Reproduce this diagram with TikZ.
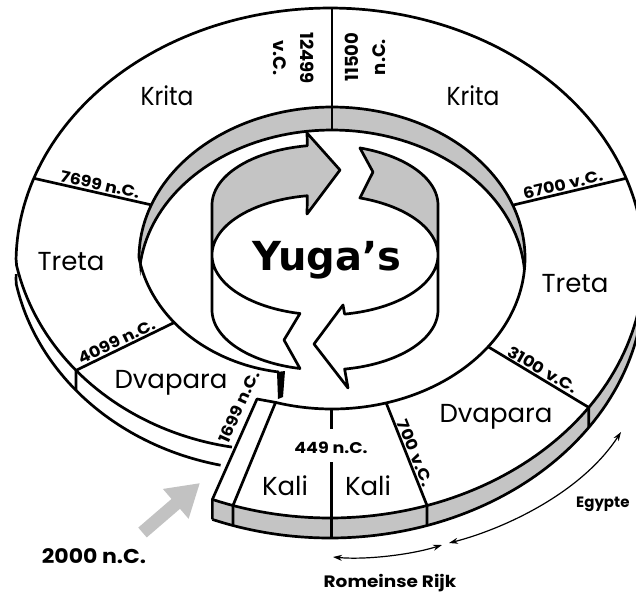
\documentclass[tikz,border=0pt]{standalone}
\usepackage{fontspec}
\usepackage{graphicx}
\setmainfont{Poppins}
\newfontfamily\heavyfont{DejaVu Sans}
\usetikzlibrary{arrows.meta,calc}
\definecolor{bandgrey}{RGB}{196,196,196}
\definecolor{ptrgrey}{RGB}{194,194,194}
\newcommand\datetext[1]{\scalebox{1.13}[1]{#1}}
\begin{document}
\begin{tikzpicture}[x=1pt,y=-1pt,
  declare function={
    ko(\t)=1-0.0032*max(0,-180-\t);
    ox(\t)=330+314*ko(\t)*cos(\t);
    oy(\t)=263+255*ko(\t)*sin(\t);
    ki(\t)=1-0.0028*max(0,-180-\t);
    ix(\t)=332+193*ki(\t)*cos(\t);
    iy(\t)=258+151*ki(\t)*sin(\t);
  },
  edge/.style={line width=2.7pt,line join=round},
  yugalabel/.style={font=\fontsize{26}{28}\selectfont,inner sep=0pt,anchor=base},
  datelabel/.style={font=\bfseries\fontsize{15.5}{17}\selectfont,inner sep=2.5pt},
  toplabel/.style={font=\bfseries\fontsize{18}{27}\selectfont,inner sep=0pt,align=center},
  notelabel/.style={font=\bfseries\fontsize{16.5}{18}\selectfont,inner sep=0pt,anchor=base},
  thinarrow/.style={line width=1.2pt,{Stealth[length=9pt,width=6pt]}-{Stealth[length=9pt,width=6pt]}}
]
\useasboundingbox (0,0) rectangle (636,592);
\clip (0,0) rectangle (636,592);

% ---------- named points ----------
\coordinate (S1) at ({ox(112)},{oy(112)});
\coordinate (S1b) at ({ox(112)},{oy(112)+20});
\coordinate (S2) at (257,399);
\coordinate (S3) at ({ix(107)},{iy(107)});
\coordinate (S4) at ({ox(108)},{oy(108)});
\coordinate (S4b) at ({ox(108)},{oy(108)+20});

\coordinate (otop) at (332,{oy(-90)});
\coordinate (wtop) at (332,130);
\coordinate (o7699) at ({ox(-160.6)},{oy(-160.6)});
\coordinate (i7699) at ({ix(-159.4)},{iy(-159.4)});
\coordinate (o6700) at ({ox(-19.4)},{oy(-19.4)});
\coordinate (i6700) at ({ix(-20.5)},{iy(-20.5)});
\coordinate (o3100) at ({ox(34.5)},{oy(34.5)});
\coordinate (o3100b) at ({ox(34.5)},{oy(34.5)+20});
\coordinate (i3100) at ({ix(36)},{iy(36)});
\coordinate (o700) at ({ox(72)},{oy(72)});
\coordinate (o700b) at ({ox(72)},{oy(72)+20});
\coordinate (i700) at ({ix(73.7)},{iy(73.7)});
\coordinate (i449) at (331.5,{iy(90)});
\coordinate (m449a) at (331.5,429);
\coordinate (m449b) at (331.5,462);
\coordinate (o449b) at (331.5,{oy(90)+20});
\coordinate (o4099) at ({ox(-207.5)},{oy(-207.5)});
\coordinate (o4099b) at ({ox(-207.5)},{oy(-207.5)+20});
\coordinate (i4099) at ({ix(-207.6)},{iy(-207.6)});

\coordinate (W1) at (277,372);
\coordinate (W2) at (285,371);
\coordinate (W3) at (283,397);
\coordinate (W4) at (278,399);

% central ribbon arrows
\coordinate (A1ub) at (307,133);
\coordinate (A1tip) at (340,170);
\coordinate (A1lb) at (307,214);
\coordinate (A1notch) at (284,340);
\coordinate (A2notch) at (373,172);
\coordinate (A2ub) at (343,305);
\coordinate (A2tip) at (314,344);
\coordinate (A2lb) at (348,388);

% ---------- grey fills ----------
\fill[bandgrey] plot[domain=112:0,samples=90] ({ox(\x)},{oy(\x)})
  -- plot[domain=0:112,samples=90] ({ox(\x)},{oy(\x)+20}) -- cycle;

\begin{scope}
  \clip plot[domain=0:360,samples=120] ({332+193*cos(\x)},{258+151*sin(\x)}) -- cycle;
  \fill[bandgrey] (100,285) -- plot[domain=180:360,samples=90] ({332+193*cos(\x)},{281+151*sin(\x)})
    -- (560,285) -- (560,90) -- (100,90) -- cycle;
  \draw[edge] plot[domain=180:360,samples=90] ({332+193*cos(\x)},{281+151*sin(\x)});
\end{scope}

\fill[bandgrey] plot[domain=180:261,samples=40] ({325+113*cos(\x)},{205+60*sin(\x)})
  -- (A1ub) -- (A1tip) -- (A1lb)
  -- plot[domain=261:180,samples=40] ({325+113*cos(\x)},{255+60*sin(\x)}) -- cycle;
\fill[bandgrey] plot[domain=288:360,samples=40] ({325+113*cos(\x)},{205+60*sin(\x)})
  -- plot[domain=360:288,samples=40] ({325+113*cos(\x)},{255+60*sin(\x)})
  -- (A2notch) -- cycle;

% ---------- ring outlines ----------
\draw[edge] plot[domain=112:-246.6,samples=240] ({ox(\x)},{oy(\x)});
\draw[edge] plot[domain=112:0,samples=90] ({ox(\x)},{oy(\x)+20});
\draw[edge] plot[domain=-178:-244,samples=60] ({ox(\x)},{oy(\x)+20});
\draw[edge] plot[domain=107:-250,samples=240] ({ix(\x)},{iy(\x)});

\draw[edge] (S1b) -- (S1) -- (S2) -- (S3) -- (S4) -- (S4b);
\fill (W1) -- (W2) -- (W3) -- (W4) -- cycle;

% dividers
\draw[edge] (otop) -- (wtop);
\draw[edge] (o7699) -- (i7699);
\draw[edge] (o6700) -- (i6700);
\draw[edge] (i3100) -- (o3100) -- (o3100b);
\draw[edge] (i700) -- (o700) -- (o700b);
\draw[edge] (i449) -- (m449a);
\draw[edge] (m449b) -- (o449b);
\draw[edge] (i4099) -- (o4099) -- (o4099b);

% ---------- central arrows ----------
\draw[edge] plot[domain=180:261,samples=40] ({325+113*cos(\x)},{205+60*sin(\x)})
  -- (A1ub) -- (A1tip) -- (A1lb)
  -- plot[domain=261:180,samples=40] ({325+113*cos(\x)},{255+60*sin(\x)})
  -- plot[domain=180:102.8,samples=40] ({325+113*cos(\x)},{255+60*sin(\x)})
  -- (A1notch)
  -- plot[domain=102.8:180,samples=40] ({325+113*cos(\x)},{310+60*sin(\x)}) -- cycle;
\draw[edge] plot[domain=288:360,samples=40] ({325+113*cos(\x)},{205+60*sin(\x)})
  -- plot[domain=0:80,samples=40] ({325+113*cos(\x)},{310+60*sin(\x)})
  -- (A2lb) -- (A2tip) -- (A2ub)
  -- plot[domain=80:0,samples=40] ({325+113*cos(\x)},{255+60*sin(\x)})
  -- plot[domain=360:288,samples=40] ({325+113*cos(\x)},{255+60*sin(\x)})
  -- (A2notch) -- cycle;

% ---------- labels ----------
\node[font=\heavyfont\bfseries\fontsize{40}{42}\selectfont,inner sep=0pt,anchor=base] (yuga) at (327,270) {Yuga’s};

\node[yugalabel] (krita1) at (167,105) {\scalebox{0.9}[1]{Krita}};
\node[yugalabel] (krita2) at (473,105) {\scalebox{0.9}[1]{Krita}};
\node[yugalabel] (treta1) at (71,270) {Treta};
\node[yugalabel] (treta2) at (575,292) {Treta};
\node[yugalabel] (dvap1) at (171,388) {Dvapara};
\node[yugalabel] (dvap2) at (496,422) {Dvapara};
\node[yugalabel] (kali1) at (285,495) {Kali};
\node[yugalabel] (kali2) at (368,495) {Kali};

\node[toplabel,rotate=-90] (l12499) at (294,58) {12499\\v.C.};
\node[toplabel,rotate=90] (l11500) at (365,57) {11500\\n.C.};
\node[datelabel,rotate=-12.5,anchor=south] (l7699) at ($(o7699)!0.55!(i7699)$) {\datetext{7699 n.C.}};
\node[datelabel,rotate=13.2,anchor=south] (l6700) at ($(i6700)!0.46!(o6700)$) {\datetext{6700 v.C.}};
\node[datelabel,rotate=26,anchor=south] (l4099) at ($(o4099)!0.45!(i4099)$) {\datetext{4099 n.C.}};
\node[datelabel,rotate=-30,anchor=south] (l3100) at ($(i3100)!0.5!(o3100)$) {\datetext{3100 v.C.}};
\node[datelabel,rotate=-68,anchor=south] (l700) at ($(i700)!0.52!(o700)$) {\datetext{700 v.C.}};
\node[datelabel,rotate=65.6,inner sep=0pt] (l1699) at (239,407) {\datetext{1699 n.C.}};
\node[datelabel,inner sep=0pt,anchor=base] (l449) at (331,453) {\datetext{449 n.C.}};

% ---------- pointers ----------
\coordinate (p0) at (142.5,532.5);
\coordinate (p1) at (200,483);
\draw[ptrgrey,line width=13pt,-{Triangle[length=32pt,width=37pt]}] (p0) -- (p1);
\node[notelabel,font=\bfseries\fontsize{20}{22}\selectfont] (now) at (94,563) {\scalebox{1.1}[1]{2000 n.C.}};

\coordinate (r0) at (333,557);
\coordinate (r1) at (442,545);
\draw[thinarrow] (r0) .. controls (365,560) and (410,555) .. (r1);
\node[notelabel] (rome) at (390,587) {\scalebox{1.12}[1]{Romeinse Rijk}};

\coordinate (e0) at (449,543);
\coordinate (e1) at (621,432);
\draw[thinarrow] (e0) .. controls (500,530) and (580,495) .. (e1);
\node[notelabel,font=\bfseries\fontsize{15}{16}\selectfont,anchor=base west] (egy) at (576,507) {Egypte};
\end{tikzpicture}
\end{document}
